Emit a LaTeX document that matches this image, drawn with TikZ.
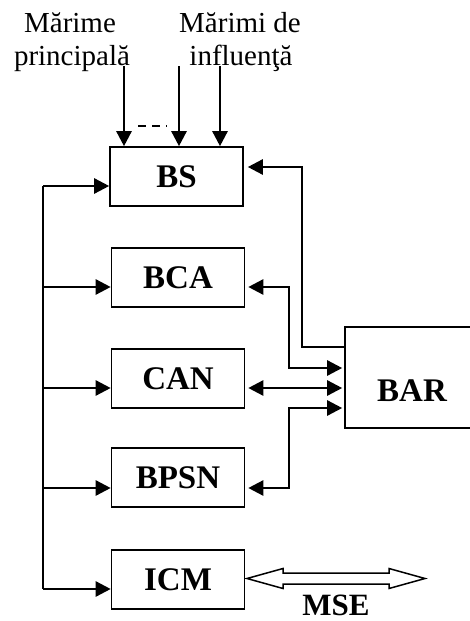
\documentclass[tikz,border=0pt]{standalone}
\usepackage{fontspec}
\setmainfont{Liberation Serif}
\usetikzlibrary{arrows.meta}
\begin{document}
\begin{tikzpicture}[x=1pt,y=-1pt,
  blk/.style={draw,line width=1.6pt,minimum width=133pt,minimum height=59pt,inner sep=0pt,
    font=\fontsize{33}{36}\selectfont\bfseries},
  lbl/.style={font=\fontsize{29}{32}\selectfont,anchor=base,inner sep=0pt},
  conn/.style={line width=2.5pt},
  arr/.style={conn,-{Triangle[length=15pt,width=15pt]}},
  darr/.style={conn,{Triangle[length=15pt,width=15pt]}-{Triangle[length=15pt,width=15pt]}}]
\useasboundingbox (0,0) rectangle (470,621);
% boxes
\node[blk] (BS) at (176.5,176.5) {BS};
\node[blk] (BCA) at (178,277.5) {BCA};
\node[blk] (CAN) at (178,378.5) {CAN};
\node[blk] (BPSN) at (178,477.5) {BPSN};
\node[blk] (ICM) at (178,579.5) {ICM};
\node[draw,line width=1.6pt,minimum width=134pt,minimum height=101pt,inner sep=0pt] (BAR) at (412,377.5) {};
\node[font=\fontsize{33}{36}\selectfont\bfseries,inner sep=0pt] (BARt) at (412,391) {BAR};
% labels
\node[lbl] (l1) at (70,32) {Mărime};
\node[lbl] (l2) at (72,65) {principală};
\node[lbl] (l3) at (240,32) {Mărimi de};
\node[lbl] (l4) at (241,65) {influenţă};
% top inputs
\coordinate (t1) at (124,66);
\coordinate (t2) at (179,66);
\coordinate (t3) at (220,66);
\draw[arr] (t1) -- (BS.north -| t1);
\draw[arr] (t2) -- (BS.north -| t2);
\draw[arr] (t3) -- (BS.north -| t3);
\coordinate (d1) at (138,126);
\coordinate (d2) at (167,126);
\draw[line width=1.6pt,dash pattern=on 8pt off 6pt] (d1) -- (d2);
% left bus
\coordinate (b1) at (43,186);
\coordinate (b2) at (43,287);
\coordinate (b3) at (43,388);
\coordinate (b4) at (43,488);
\coordinate (b5) at (43,589);
\draw[conn] (b1) -- (b5);
\draw[arr] (b1) -- (BS.west |- b1);
\draw[arr] (b2) -- (BCA.west |- b2);
\draw[arr] (b3) -- (CAN.west |- b3);
\draw[arr] (b4) -- (BPSN.west |- b4);
\draw[arr] (b5) -- (ICM.west |- b5);
% right side
\coordinate (rA) at (302,347);
\coordinate (rB) at (302,167);
\draw[arr,shorten >=4pt] (BAR.west |- rA) -- (rA) -- (rB) -- (BS.east |- rB);
\coordinate (cA) at (289,287);
\coordinate (cB) at (289,368);
\draw[darr,shorten <=3pt,shorten >=2pt] (BCA.east |- cA) -- (cA) -- (cB) -- (BAR.west |- cB);
\coordinate (cC) at (289,388);
\draw[darr,shorten <=3pt,shorten >=2pt] (CAN.east |- cC) -- (BAR.west |- cC);
\coordinate (pA) at (289,408);
\coordinate (pB) at (289,488);
\draw[darr,shorten <=2pt,shorten >=3pt] (BAR.west |- pA) -- (pA) -- (pB) -- (BPSN.east |- pB);
% MSE double arrow
\draw[line width=1.5pt,line join=miter] (247,578.5) -- (283,568.5) -- (283,573) -- (389,573) -- (389,568.5)
  -- (425,578.5) -- (389,588.5) -- (389,584) -- (283,584) -- (283,588.5) -- cycle;
\node[font=\fontsize{31}{36}\selectfont\bfseries,inner sep=0pt,anchor=base] (MSE) at (336,615.5) {MSE};
\end{tikzpicture}
\end{document}
